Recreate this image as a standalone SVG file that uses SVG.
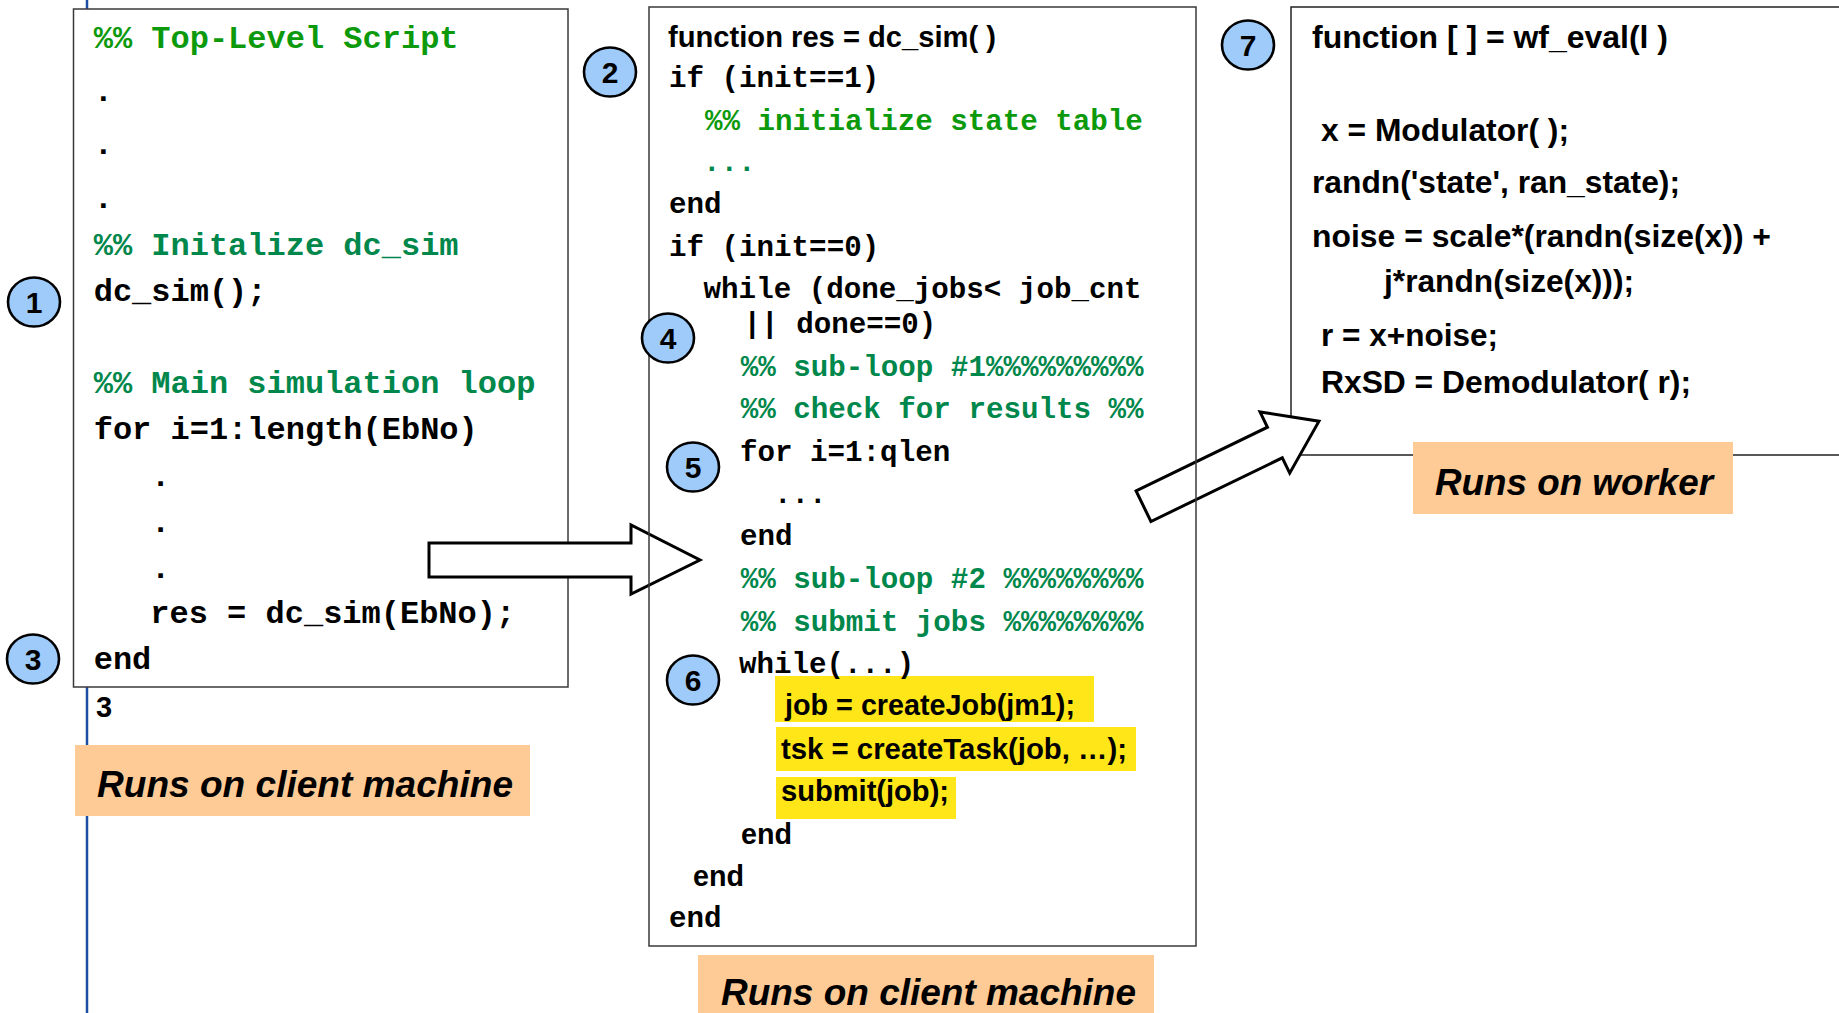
<svg xmlns="http://www.w3.org/2000/svg" width="1839" height="1013" viewBox="0 0 1839 1013">
<style>
.box{fill:#fff;stroke:#3a3a3a;stroke-width:1.5}
.boxn{fill:none;stroke:#3a3a3a;stroke-width:1.5}
.m32{font-family:"Liberation Mono","Courier New",monospace;font-weight:bold;font-size:32px;fill:#000}
.m29{font-family:"Liberation Mono","Courier New",monospace;font-weight:bold;font-size:29.2px;fill:#000}
.sans{font-family:"Liberation Sans",Arial,sans-serif;font-weight:bold;fill:#000}
.g1{fill:#0c9a0c}
.g2{fill:#00874b}
.lbl{fill:#fecb96}
.lt{font-family:"Liberation Sans",Arial,sans-serif;font-weight:bold;font-style:italic;font-size:36px;fill:#000}
.hl{fill:#ffe619}
.arrow{fill:#fff;stroke:#000;stroke-width:3;stroke-linejoin:miter}
.badge ellipse{fill:#9ecbfa;stroke:#000;stroke-width:2.6}
.badge text{font-family:"Liberation Sans",Arial,sans-serif;font-weight:bold;font-size:30px;fill:#000;text-anchor:middle}
</style>
<rect width="1839" height="1013" fill="#fff"/>
<line x1="87" y1="0" x2="87" y2="1013" stroke="#1a4ea0" stroke-width="2.5"/>

<g id="node-top-level-script">
<rect class="box" x="73.5" y="9" width="494.5" height="678"/>
<text class="m32 g1" x="93.7" y="48">%% Top-Level Script</text>
<text class="m32" x="93.7" y="101">.</text>
<text class="m32" x="93.7" y="154">.</text>
<text class="m32" x="93.7" y="208">.</text>
<text class="m32 g2" x="93.7" y="255">%% Initalize dc_sim</text>
<text class="m32" x="93.7" y="301">dc_sim();</text>
<text class="m32 g2" x="93.7" y="393">%% Main simulation loop</text>
<text class="m32" x="93.7" y="439">for i=1:length(EbNo)</text>
<text class="m32" x="151" y="486">.</text>
<text class="m32" x="151" y="532">.</text>
<text class="m32" x="151" y="578">.</text>
<text class="m32" x="150.3" y="623">res = dc_sim(EbNo);</text>
<text class="m32" x="93.7" y="669">end</text>
</g>
<text class="sans" x="96" y="717" font-size="29">3</text>

<g id="node-wf-eval">
<rect x="1291" y="7" width="560" height="448" fill="#fff" stroke="none"/>
<path d="M1850 7 H1291 V455 H1850" fill="none" stroke="#222" stroke-width="1.5"/>
<text class="sans" font-size="31" x="1312" y="48" textLength="356" lengthAdjust="spacingAndGlyphs">function [ ] = wf_eval(l )</text>
<text class="sans" font-size="31" x="1321" y="141" textLength="248" lengthAdjust="spacingAndGlyphs">x = Modulator( );</text>
<text class="sans" font-size="31" x="1312" y="193" textLength="368" lengthAdjust="spacingAndGlyphs">randn('state', ran_state);</text>
<text class="sans" font-size="31" x="1312" y="247" textLength="459" lengthAdjust="spacingAndGlyphs">noise = scale*(randn(size(x)) +</text>
<text class="sans" font-size="31" x="1384" y="292" textLength="250" lengthAdjust="spacingAndGlyphs">j*randn(size(x)));</text>
<text class="sans" font-size="31" x="1321" y="346" textLength="177" lengthAdjust="spacingAndGlyphs">r = x+noise;</text>
<text class="sans" font-size="31" x="1321" y="393" textLength="370" lengthAdjust="spacingAndGlyphs">RxSD = Demodulator( r);</text>
</g>

<g id="connectors">
<polygon id="arrow-call" class="arrow" transform="translate(429 560)" points="0,-17 202,-17 202,-35 271,0 202,34 202,17 0,17"/>
<polygon id="arrow-worker" class="arrow" transform="translate(1143.5 506.2) rotate(-25.86)" points="0,-17 146,-17 146,-34 195,0 146,34 146,17 0,17"/>
</g>

<g id="node-dc-sim">
<rect class="hl" x="775" y="676" width="319" height="46"/>
<rect class="hl" x="776" y="727" width="360" height="44"/>
<rect class="hl" x="776" y="777" width="180" height="42"/>
<rect class="boxn" x="649" y="7" width="547" height="939"/>
<text class="sans" font-size="30" x="668" y="47" textLength="328" lengthAdjust="spacingAndGlyphs">function res = dc_sim( )</text>
<text class="m29" x="669" y="87">if (init==1)</text>
<text class="m29 g1" x="705" y="130">%% initialize state table</text>
<text class="m29 g2" x="703" y="171">...</text>
<text class="m29" x="669" y="213">end</text>
<text class="m29" x="669" y="256">if (init==0)</text>
<text class="m29" x="703.6" y="298">while (done_jobs&lt; job_cnt</text>
<text class="m29" x="743.6" y="333">|| done==0)</text>
<text class="m29 g2" x="740.7" y="376">%% sub-loop #1%%%%%%%%%</text>
<text class="m29 g2" x="740.7" y="418">%% check for results %%</text>
<text class="m29" x="740" y="461">for i=1:qlen</text>
<text class="m29" x="774" y="503">...</text>
<text class="m29" x="740" y="545">end</text>
<text class="m29 g2" x="740.7" y="588">%% sub-loop #2 %%%%%%%%</text>
<text class="m29 g2" x="740.7" y="631">%% submit jobs %%%%%%%%</text>
<text class="m29" x="739" y="673">while(...)</text>
<text class="sans" font-size="29.5" x="785" y="715" textLength="290" lengthAdjust="spacingAndGlyphs">job = createJob(jm1);</text>
<text class="sans" font-size="29.5" x="781" y="759" textLength="346" lengthAdjust="spacingAndGlyphs">tsk = createTask(job, …);</text>
<text class="sans" font-size="29.5" x="781" y="801" textLength="168" lengthAdjust="spacingAndGlyphs">submit(job);</text>
<text class="sans" font-size="29.5" x="741" y="844" textLength="51" lengthAdjust="spacingAndGlyphs">end</text>
<text class="sans" font-size="29.5" x="693" y="886" textLength="51" lengthAdjust="spacingAndGlyphs">end</text>
<text class="m29" x="669" y="927">end</text>
</g>

<g id="label-client-1">
<rect class="lbl" x="75" y="745" width="455" height="71"/>
<text class="lt" x="97" y="797" textLength="416" lengthAdjust="spacingAndGlyphs">Runs on client machine</text>
</g>
<g id="label-client-2">
<rect class="lbl" x="698" y="955" width="456" height="70"/>
<text class="lt" x="721" y="1005" textLength="415" lengthAdjust="spacingAndGlyphs">Runs on client machine</text>
</g>
<g id="label-worker">
<rect class="lbl" x="1413" y="442" width="320" height="72"/>
<text class="lt" x="1435" y="495" textLength="278" lengthAdjust="spacingAndGlyphs">Runs on worker</text>
</g>

<g id="badge-1" class="badge"><ellipse cx="34" cy="302" rx="26" ry="24.5"/><text x="34" y="313">1</text></g>
<g id="badge-2" class="badge"><ellipse cx="610" cy="72" rx="26" ry="24.5"/><text x="610" y="83">2</text></g>
<g id="badge-3" class="badge"><ellipse cx="33" cy="659" rx="26" ry="24.5"/><text x="33" y="670">3</text></g>
<g id="badge-4" class="badge"><ellipse cx="668" cy="338" rx="26" ry="24.5"/><text x="668" y="349">4</text></g>
<g id="badge-5" class="badge"><ellipse cx="693" cy="467" rx="26" ry="24.5"/><text x="693" y="478">5</text></g>
<g id="badge-6" class="badge"><ellipse cx="693" cy="680" rx="26" ry="24.5"/><text x="693" y="691">6</text></g>
<g id="badge-7" class="badge"><ellipse cx="1248" cy="45" rx="26" ry="24.5"/><text x="1248" y="56">7</text></g>
</svg>
